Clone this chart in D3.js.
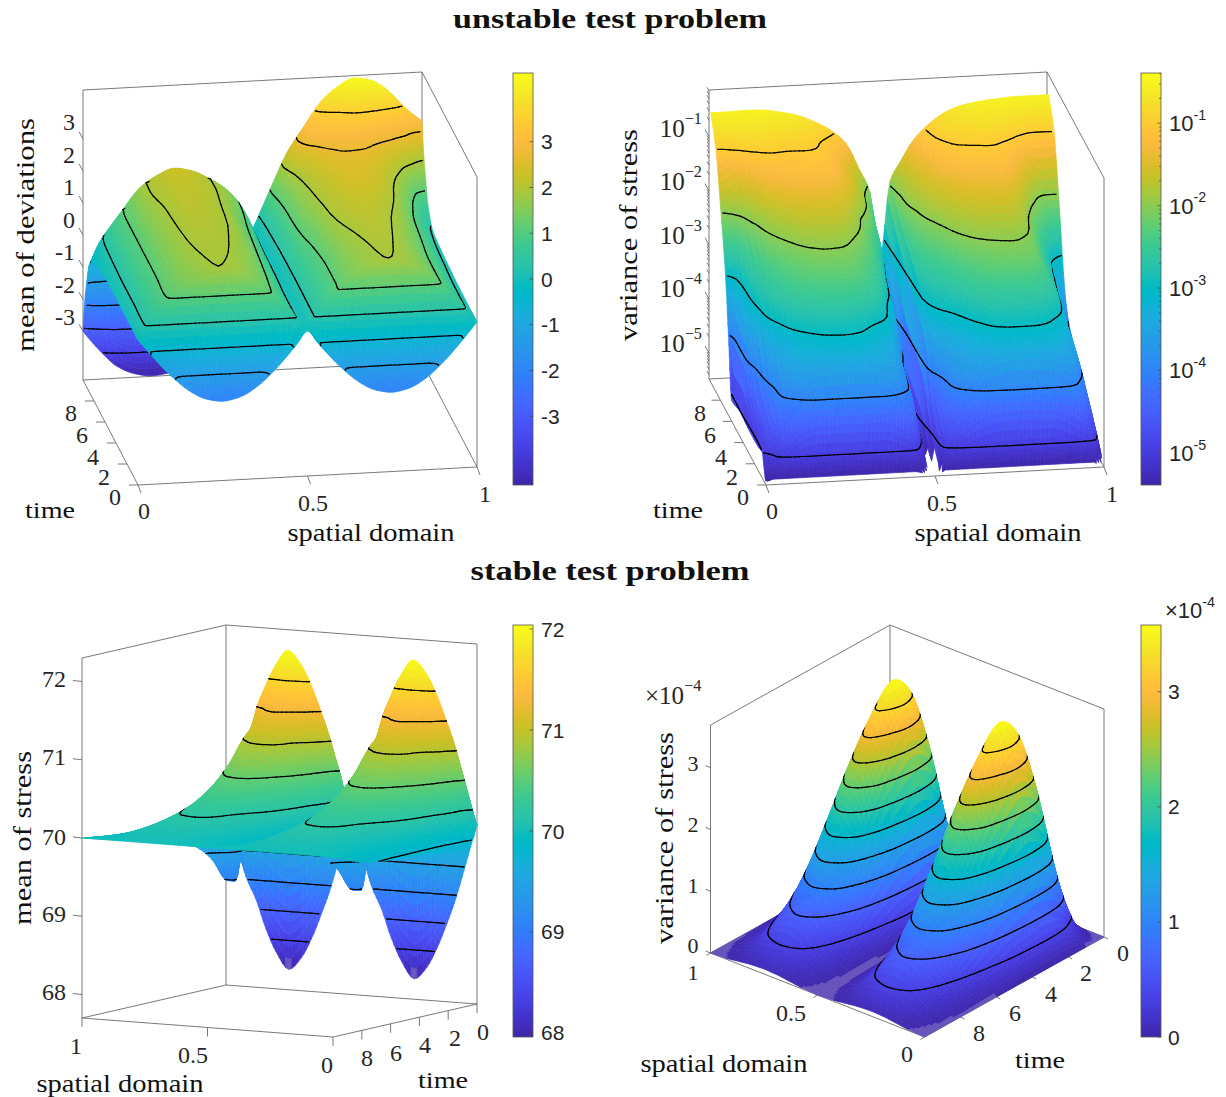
<!DOCTYPE html>
<html><head><meta charset="utf-8">
<script src="https://cdnjs.cloudflare.com/ajax/libs/d3/7.8.5/d3.min.js"></script>
<style>html,body{margin:0;padding:0;background:#fff}svg{display:block}</style></head>
<body><svg id="fig" width="1226" height="1097"></svg>
<script>
// ---------- values ----------
const timeTicks = [0, 2, 4, 6, 8];
const spaceTicks = [0, 0.5, 1];

// unstable: mean of deviations
const devX = [0,.03,.06,.1,.15,.2,.25,.3,.35,.4,.44,.47,.5,.53,.56,.6,.65,.7,.75,.8,.85,.9,.94,.97,1];
const devT = [0,.28,.35,.38,.42,.6,1,2.5,4.5,6.5,8,8.9,9.3,9.7,10];
const devZ = [
[0,-.38,-.75,-1.2,-1.66,-1.95,-2.05,-1.95,-1.66,-1.2,-.75,-.38,0,-.38,-.75,-1.2,-1.66,-1.95,-2.05,-1.95,-1.66,-1.2,-.75,-.38,0],
[0,-.36,-.72,-1.15,-1.32,-1.33,-1.33,-1.33,-1.32,-1.15,-.72,-.36,0,-.36,-.72,-1.15,-1.32,-1.33,-1.33,-1.33,-1.32,-1.15,-.72,-.36,0],
[0,-.3,-.48,-.5,-.5,-.5,-.5,-.5,-.5,-.5,-.48,-.3,0,-.3,-.48,-.5,-.5,-.5,-.5,-.5,-.5,-.5,-.48,-.3,0],
[0,.25,.3,.32,.32,.32,.32,.32,.32,.32,.3,.25,0,.25,.3,.32,.32,.32,.32,.32,.32,.32,.3,.25,0],
[0,.32,.75,1.08,1.15,1.18,1.18,1.18,1.15,1.08,.72,.34,0,.34,.72,1.1,1.15,1.18,1.18,1.18,1.15,1.08,.72,.32,0],
[0,.34,.8,1.15,1.45,1.7,1.88,1.72,1.45,1.12,.72,.35,0,.34,.75,1.12,1.5,1.78,1.88,1.78,1.5,1.12,.72,.34,0],
[0,.35,.8,1.18,1.52,1.76,1.91,1.83,1.55,1.15,.72,.35,0,.34,.76,1.1,1.55,1.78,1.92,1.8,1.55,1.12,.72,.35,0],
[0,.33,.8,1.15,1.6,1.87,1.97,1.92,1.7,1.25,.75,.35,0,.33,.75,1.1,1.6,1.87,2,1.87,1.55,1.12,.72,.35,0],
[0,.33,.8,1.15,1.65,1.93,2.05,2,1.85,1.35,.85,.42,0,.33,.85,1.2,1.85,2.05,2.15,2,1.7,1.2,.8,.4,.03],
[-.05,.3,.8,1.15,1.72,1.97,2.15,2.08,1.9,1.45,.95,.45,-.02,.35,.95,1.5,2,2.25,2.4,2.3,2,1.35,.85,.45,.1],
[-.2,.25,.8,1.15,1.8,2.05,2.22,2.15,1.95,1.6,1.1,.55,-.03,.4,1,1.65,2.15,2.45,2.6,2.55,2.3,1.75,1.1,.6,.2],
[-.6,.1,.55,1.1,1.75,2.1,2.3,2.2,1.95,1.6,1.15,.6,-.05,.45,1.1,1.8,2.4,2.75,2.85,2.85,2.65,2.25,1.6,1,.7],
[-1.2,-.8,-.5,-.3,.3,1,1.5,1.5,1.3,1,.7,.4,-.07,.5,1.2,2,2.8,3.1,3.15,3.2,3,2.7,2.2,1.7,1.3],
[-2,-2.3,-2.6,-2.9,-3,-2.8,-2.5,-2.2,-1.7,-1,-.5,-.2,-.1,.55,1.3,2.2,3,3.35,3.5,3.7,3.6,3.3,3,2.4,2.1],
[-3,-3.4,-3.75,-4.15,-4.4,-4.5,-4.45,-4.1,-3.3,-2.2,-1.3,-.7,-.1,.6,1.3,2.2,3,3.75,4.2,4.45,4.35,4,3.55,3.25,3]
];
const devLevels = [-3.7,-2.9,-2.1,-1.3,-.5,.3,1.1,1.9,2.7,3.5];
const devZTicks = [-3,-2,-1,0,1,2,3];

// unstable: variance of stress (base-10 exponents; cells under the mask exponent are not drawn)
const uvarX = [0,.02,.05,.1,.15,.2,.25,.3,.35,.4,.44,.47,.5,.53,.56,.6,.65,.7,.75,.8,.85,.9,.94,.97,1];
const uvarT = [0,.05,.2,.7,1.5,3,4.5,6,6.6,7.1,7.9,8.8,9.7];
const uvarE = [
[-5.45,-5.38,-5.38,-5.38,-5.38,-5.38,-5.38,-5.38,-5.38,-5.38,-5.38,-5.43,-5.6,-5.38,-5.38,-5.38,-5.38,-5.38,-5.38,-5.38,-5.38,-5.38,-5.38,-5.38,-5.6],
[-5.42,-5.35,-5.2,-5,-4.95,-4.95,-4.95,-4.95,-4.95,-5,-5.1,-5.42,-5.6,-5.3,-5.2,-5.05,-4.95,-4.9,-4.9,-4.9,-4.9,-5,-5.1,-5.2,-5.6],
[-5.35,-5.2,-4.7,-4.25,-4,-4,-4,-4,-4,-4.2,-4.7,-5.3,-5.6,-5,-4.7,-4.3,-4.05,-3.95,-3.9,-3.9,-3.95,-4.05,-4.3,-4.8,-5.5],
[-5,-4.8,-4.1,-3.6,-3.35,-3.25,-3.22,-3.25,-3.35,-3.7,-4.1,-5,-5.55,-4.7,-4.1,-3.7,-3.4,-3.2,-3.15,-3.15,-3.2,-3.5,-4,-4.5,-5.3],
[-5.05,-4.7,-4,-3.2,-2.97,-2.85,-2.82,-2.9,-3.15,-3.4,-3.95,-4.7,-5.45,-4.5,-3.85,-3.4,-3.05,-2.85,-2.8,-2.8,-2.88,-3.15,-3.6,-4.3,-5.25],
[-5.05,-4.5,-3.1,-2.65,-2.4,-2.3,-2.25,-2.27,-2.45,-2.85,-3.7,-4.3,-5.1,-3.3,-3,-2.8,-2.5,-2.3,-2.22,-2.2,-2.3,-2.65,-3.4,-4.1,-5],
[-5.02,-3.5,-2.8,-2.35,-2.1,-1.95,-1.9,-1.93,-2.15,-2.5,-3,-3.8,-5,-2.9,-2.6,-2.4,-2.1,-1.95,-1.9,-1.88,-2,-2.55,-3.1,-3.9,-4.4],
[-5.1,-3.4,-2.6,-2,-1.72,-1.55,-1.48,-1.5,-1.75,-2.2,-2.7,-3.4,-4.8,-2.65,-2.25,-2,-1.72,-1.55,-1.48,-1.45,-1.7,-2.3,-2.85,-3.5,-4.1],
[-4,-3.2,-2.45,-1.85,-1.5,-1.38,-1.3,-1.35,-1.6,-2.1,-2.55,-3.2,-4.5,-2.55,-2.13,-1.85,-1.55,-1.38,-1.3,-1.28,-1.5,-2.1,-2.7,-3.3,-3.8],
[-3,-2.7,-2.25,-1.6,-1.33,-1.22,-1.18,-1.2,-1.45,-1.9,-2.4,-3,-4.2,-2.48,-2.05,-1.75,-1.38,-1.22,-1.15,-1.13,-1.3,-1.9,-2.4,-2.9,-3.3],
[-2,-1.9,-1.7,-1.25,-1.1,-1.08,-1.06,-1.05,-1.3,-1.65,-2.15,-2.7,-3.9,-2.33,-1.85,-1.55,-1.2,-1.03,-1,-.98,-1.1,-1.5,-1.95,-2.1,-2.1],
[-1,-.97,-.88,-.8,-.78,-.86,-.88,-.98,-1.2,-1.6,-2,-2.5,-3.6,-2.15,-1.8,-1.35,-1,-.85,-.78,-.72,-.75,-.9,-1,-1,-.97],
[-.5,-.5,-.5,-.49,-.5,-.55,-.62,-.75,-.92,-1.2,-1.7,-2.1,-3.4,-1.95,-1.6,-1.2,-.9,-.7,-.6,-.55,-.52,-.5,-.5,-.5,-.5]
];
const uvarLevels = [-5,-4,-3,-2,-1];
const uvarZTicks = [-5,-4,-3,-2,-1];

// stable: mean of stress (deviation from the 70 level, first lobe; the second lobe repeats it)
const mstressBase = 70;
const mstressLobeX = [0,.03,.06,.09,.12,.16,.2,.25,.3,.34,.38,.42,.45,.48,.5];
const mstressT = [0,.06,.22,.5,1,2,3.5,5,6.5,8,9,10];
const mstressLobe = [
[0,-.35,-.7,-1.03,-1.3,-1.63,-1.88,-2.04,-1.83,-1.55,-1.18,-.9,-.55,-.2,0],
[0,.35,.7,1.03,1.3,1.63,1.88,2.04,1.83,1.55,1.18,-.3,-.7,-.7,-.6],
[-.15,.25,.6,.92,1.18,1.45,1.6,1.66,1.55,1.37,1.1,-.35,-.95,-.95,-.85],
[-.22,.1,.45,.75,1,1.28,1.42,1.47,1.38,1.18,.97,-.3,-.9,-.9,-.8],
[-.28,.1,.38,.6,.75,.92,1.15,1.29,1.2,1.05,.88,0,-.45,-.6,-.65],
[-.28,-.05,.2,.42,.55,.72,.88,.92,.87,.75,.6,.12,-.15,-.32,-.46],
[-.24,-.1,.06,.2,.28,.38,.5,.55,.52,.45,.33,.08,-.08,-.18,-.28],
[-.22,-.1,0,.08,.13,.19,.28,.32,.3,.25,.18,.04,-.05,-.1,-.15],
[-.2,-.1,-.04,.02,.06,.1,.16,.18,.17,.15,.1,.02,-.03,-.06,-.1],
[-.15,-.07,-.03,0,.03,.05,.07,.09,.08,.07,.05,.01,-.02,-.04,-.06],
[-.08,-.03,-.01,.01,.02,.03,.04,.05,.04,.03,.02,0,-.01,-.02,-.03],
[0,0,0,0,0,0,0,0,0,0,0,0,0,0,0]
];
const mstressLevels = [68.33,68.7,69.07,69.44,69.81,70.18,70.55,70.92,71.29,71.66];
const mstressZTicks = [68,69,70,71,72];

// stable: variance of stress (units of 1e-4, first lobe; the second lobe repeats it)
const svarLobeX = [0,.0625,.125,.1875,.25,.3125,.375,.4375,.5];
const svarT = [0,.4,.85,1.2,1.65,1.95,2.35,2.75,3.6,4.5,5.5,6.5,7.5,8.5,9.5,10];
const svarLobe = [
[0,0,0,0,0,0,0,0,0],
[0,.06,.2,.34,.4,.34,.2,.06,0],
[0,.2,.67,1.14,1.34,1.14,.67,.2,0],
[0,.31,1.07,1.84,2.15,1.84,1.07,.31,0],
[0,.44,1.49,2.54,2.98,2.54,1.49,.44,0],
[0,.48,1.65,2.82,3.3,2.82,1.65,.48,0],
[0,.51,1.75,2.99,3.5,2.99,1.75,.51,0],
[0,.52,1.79,3.06,3.58,3.06,1.79,.52,0],
[0,.48,1.65,2.82,3.3,2.82,1.65,.48,0],
[0,.42,1.42,2.43,2.85,2.43,1.42,.42,0],
[0,.31,1.07,1.84,2.15,1.84,1.07,.31,0],
[0,.21,.72,1.24,1.45,1.24,.72,.21,0],
[0,.13,.44,.75,.88,.75,.44,.13,0],
[0,.08,.26,.45,.53,.45,.26,.08,0],
[0,.03,.1,.17,.2,.17,.1,.03,0],
[0,.012,.04,.068,.08,.068,.04,.012,0]
];
const svarLevels = [.325,.65,.975,1.3,1.625,1.95,2.275,2.6,2.925,3.25];
const svarZTicks = [0,1,2,3];

// parula colour table
const parula = [[.2422,.1504,.6603],[.2504,.165,.7076],[.2578,.1818,.7511],[.2647,.1978,.7952],[.2706,.2147,.8364],[.2751,.2342,.871],[.2783,.2559,.8991],[.2803,.2782,.9221],[.2813,.3006,.9414],[.281,.3228,.9579],[.2795,.3447,.9717],[.276,.3667,.9829],[.2699,.3892,.9906],[.2602,.4123,.9952],[.244,.4358,.9988],[.2206,.4603,.9973],[.1963,.4847,.9892],[.1834,.5074,.9798],[.1786,.5289,.9682],[.1764,.5499,.952],[.1687,.5703,.9359],[.154,.5902,.9218],[.146,.6091,.9079],[.138,.6276,.8973],[.1248,.6459,.8883],[.1113,.6635,.8763],[.0952,.6798,.8598],[.0689,.6948,.8394],[.0297,.7082,.8163],[.0036,.7203,.7917],[.0067,.7312,.766],[.0433,.7411,.7394],[.0964,.75,.712],[.1408,.7584,.6842],[.1717,.767,.6554],[.1938,.7758,.6251],[.2161,.7843,.5923],[.247,.7918,.5567],[.2906,.7973,.5188],[.3406,.8008,.4789],[.3909,.8029,.4354],[.4456,.8024,.3909],[.5044,.7993,.348],[.5616,.7942,.3045],[.6174,.7876,.2612],[.672,.7793,.2227],[.7242,.7698,.191],[.7738,.7598,.1646],[.8203,.7498,.1535],[.8634,.7406,.1596],[.9035,.733,.1774],[.9393,.7288,.21],[.9728,.7298,.2394],[.9956,.7434,.2371],[.997,.7659,.2199],[.9952,.7893,.2028],[.9892,.8136,.1885],[.9786,.8386,.1766],[.9676,.8639,.1643],[.961,.889,.1537],[.9597,.9135,.1423],[.9628,.9373,.1265],[.9691,.9606,.1064],[.9769,.9839,.0805]]
  .map(c => d3.rgb(c[0]*255, c[1]*255, c[2]*255).formatRgb());
const parulaFn = d3.piecewise(d3.interpolateRgb, parula);

const SERIF = "'Liberation Serif','DejaVu Serif',serif";
const SANS = "'Liberation Sans',Arial,sans-serif";
const BOX = "#6a6a6a", TXT = "#262626";

const svg = d3.select("#fig");
const defs = svg.append("defs");
defs.append("linearGradient").attr("id","parulaGrad").attr("x1",0).attr("x2",0).attr("y1",1).attr("y2",0)
  .selectAll("stop").data(parula).join("stop")
  .attr("offset",(d,i)=>i/(parula.length-1)).attr("stop-color",d=>d);

function text(s,x,y,o={}){
  const t = svg.append("text").attr("x",x).attr("y",y)
    .attr("font-family",o.font||SERIF).attr("font-size",o.size||24)
    .attr("fill",o.fill||TXT).attr("text-anchor",o.anchor||"middle")
    .attr("dominant-baseline","central").text(s);
  if(o.bold) t.attr("font-weight","bold");
  if(o.len) t.attr("textLength",o.len).attr("lengthAdjust","spacingAndGlyphs");
  if(o.rot) t.attr("transform",`rotate(${o.rot} ${x} ${y})`);
  return t;
}
function powerText(base,exp,x,y,o={}){
  const size=o.size||24, t = text("",x,y,o);
  t.append("tspan").text(base);
  t.append("tspan").attr("dy",-size*.38).attr("font-size",size*.65).text(exp);
  return t;
}

// monotone cubic resampling of the read grid, only to tessellate the drawn mesh
function tangents(xs,ys){
  const n=xs.length, m=[], dl=[];
  for(let i=0;i<n-1;i++) dl.push((ys[i+1]-ys[i])/(xs[i+1]-xs[i]));
  m[0]=dl[0]; m[n-1]=dl[n-2];
  for(let i=1;i<n-1;i++) m[i]=(dl[i-1]*dl[i]<=0)?0:2*dl[i-1]*dl[i]/(dl[i-1]+dl[i]);
  return m;
}
function hermite(xs,ys,m,x){
  let i=d3.bisectRight(xs,x)-1; i=Math.max(0,Math.min(xs.length-2,i));
  const h=xs[i+1]-xs[i], s=(x-xs[i])/h, s2=s*s, s3=s2*s;
  return (2*s3-3*s2+1)*ys[i]+(s3-2*s2+s)*h*m[i]+(-2*s3+3*s2)*ys[i+1]+(s3-s2)*h*m[i+1];
}
function refine(xs,k){
  const o=[];
  for(let i=0;i<xs.length-1;i++) for(let j=0;j<k;j++) o.push(xs[i]+(xs[i+1]-xs[i])*j/k);
  o.push(xs[xs.length-1]); return o;
}
// more mesh rows where the read rows differ most, so tall walls keep a smooth colour
function refineRows(ts,rows,base,dz){
  const o=[];
  for(let i=0;i<ts.length-1;i++){
    const jump=d3.max(rows[i],(v,c)=>Math.abs(rows[i+1][c]-v));
    const k=Math.min(40,Math.max(base,Math.ceil(jump/dz)));
    for(let j=0;j<k;j++) o.push(ts[i]+(ts[i+1]-ts[i])*j/k);
  }
  o.push(ts[ts.length-1]); return o;
}

function drawSurface(p){
  const sx=d3.scaleLinear().domain([0,1]).range([0,1]);
  const st=d3.scaleLinear().domain([0,10]).range([0,1]);
  const sz=d3.scaleLinear().domain(p.zDomain).range([0,1]);
  const px=(x,t,z)=>p.O[0]+p.X[0]*sx(x)+p.T[0]*st(t)+p.Z[0]*sz(z);
  const py=(x,t,z)=>p.O[1]+p.X[1]*sx(x)+p.T[1]*st(t)+p.Z[1]*sz(z);
  const cnorm=d3.scaleLinear().domain(p.cDomain).range([0,1]).clamp(true);
  const color=v=>parulaFn(cnorm(v));
  const washed=v=>d3.interpolateRgb(parulaFn(cnorm(v)),"#ffffff")(.2);

  // box
  const [z0,z1]=p.zDomain, bx=p.backX, bt=p.backT, tEnd=10;
  const seg=(a,b)=>svg.append("line").attr("x1",px(...a)).attr("y1",py(...a)).attr("x2",px(...b)).attr("y2",py(...b))
    .attr("stroke",BOX).attr("stroke-width",.9);
  [[0,0],[1,0],[1,tEnd],[0,tEnd]].forEach((c,i,a)=>{const e=a[(i+1)%4]; seg([c[0],c[1],z0],[e[0],e[1],z0]);});
  seg([bx,bt,z0],[bx,bt,z1]);
  const ox=1-bx, ot=tEnd-bt;
  seg([ox,bt,z0],[ox,bt,z1]); seg([bx,ot,z0],[bx,ot,z1]);
  seg([ox,bt,z1],[bx,bt,z1]); seg([bx,ot,z1],[bx,bt,z1]);

  // ticks
  const tick=(a,v)=>svg.append("line").attr("x1",px(...a)).attr("y1",py(...a))
    .attr("x2",px(...a)+v[0]).attr("y2",py(...a)+v[1]).attr("stroke",BOX).attr("stroke-width",.9);
  spaceTicks.forEach(x=>tick([x,p.xTickT,z0],p.xTickV));
  timeTicks.forEach(t=>tick([p.tTickX,t,z0],p.tTickV));
  p.zTicks.forEach(z=>tick([p.zTickX,p.zTickT,z],p.zTickV));
  (p.zMinor||[]).forEach(z=>tick([p.zTickX,p.zTickT,z],[p.zTickV[0]*.5,p.zTickV[1]*.5]));

  // fine mesh
  const dz=(p.cDomain[1]-p.cDomain[0])/30;
  const xf=refine(p.xs,p.kx), tf=refineRows(p.ts,p.rows,p.kt,dz), nx=xf.length, nt=tf.length;
  const cols=p.rows.map(r=>{const m=tangents(p.xs,r); return xf.map(x=>hermite(p.xs,r,m,x));});
  const grid=new Float64Array(nx*nt);
  for(let i=0;i<nx;i++){
    const ys=cols.map(c=>c[i]), m=tangents(p.ts,ys);
    tf.forEach((t,j)=>{grid[j*nx+i]=hermite(p.ts,ys,m,t);});
  }
  const rankX=i=>p.nearX===0?(nx-2-i):i;
  const rankT=j=>p.nearT===0?(nt-2-j):j;
  const W=nx+4;
  const items=[];
  const f1=v=>v.toFixed(1);
  for(let j=0;j<nt-1;j++) for(let i=0;i<nx-1;i++){
    const c=[[i,j],[i+1,j],[i+1,j+1],[i,j+1]];
    let d="",sum=0,low=Infinity;
    c.forEach(([a,b],q)=>{const z=grid[b*nx+a]; sum+=z; low=Math.min(low,z); d+=(q?"L":"M")+f1(px(xf[a],tf[b],z))+","+f1(py(xf[a],tf[b],z));});
    if(p.maskBelow!==undefined&&low<p.maskBelow) continue;
    const v=sum/4, fade=p.fadeBelow!==undefined&&v<p.fadeBelow;
    items.push({key:rankT(j)*W+rankX(i),d:d+"Z",c:fade?washed(v):color(v),line:false});
  }
  // contour lines through the library's marching squares
  const fx=d3.scaleLinear().domain(d3.range(nx)).range(xf);
  const ft=d3.scaleLinear().domain(d3.range(nt)).range(tf);
  const gen=d3.contours().size([nx,nt]).smooth(true);
  p.levels.forEach(level=>{
    const mp=gen.contour(grid,level);
    mp.coordinates.forEach(poly=>poly.forEach(ring=>{
      for(let k=0;k<ring.length-1;k++){
        const a=[ring[k][0]-.5,ring[k][1]-.5], b=[ring[k+1][0]-.5,ring[k+1][1]-.5];
        if(a[0]<=0||b[0]<=0||a[1]<=0||b[1]<=0||a[0]>=nx-1||b[0]>=nx-1||a[1]>=nt-1||b[1]>=nt-1) continue;
        const ci=Math.min(nx-2,Math.floor((a[0]+b[0])/2)), cj=Math.min(nt-2,Math.floor((a[1]+b[1])/2));
        const P=q=>{const x=fx(q[0]),t=ft(q[1]); return f1(px(x,t,level))+","+f1(py(x,t,level));};
        items.push({key:(rankT(cj)+1)*W+Math.min(nx-2,rankX(ci)+1)+.5,d:"M"+P(a)+"L"+P(b),line:true});
      }
    }));
  });
  items.sort((a,b)=>a.key-b.key);
  svg.append("g").selectAll("path").data(items).join("path")
    .attr("d",d=>d.d)
    .attr("fill",d=>d.line?"none":d.c)
    .attr("stroke",d=>d.line?"#000":d.c)
    .attr("stroke-width",d=>d.line?1.25:.7)
    .attr("stroke-linecap",d=>d.line?"round":null);
}

function colorbar(x,y0,y1,ticks,pos){
  const w=20;
  svg.append("rect").attr("x",x).attr("y",y0).attr("width",w).attr("height",y1-y0)
    .attr("fill","url(#parulaGrad)").attr("stroke","#555").attr("stroke-width",.8);
  svg.append("g").selectAll("line").data(ticks).join("line")
    .attr("x1",d=>x+w-(d.minor?2:3.5)).attr("x2",x+w)
    .attr("y1",d=>pos(d.v)).attr("y2",d=>pos(d.v)).attr("stroke","#444").attr("stroke-width",.7);
}

// ---------- titles ----------
text("unstable test problem",610,18,{bold:true,size:28,fill:"#111",len:314});
text("stable test problem",610,570,{bold:true,size:28,fill:"#111",len:279});

// ---------- panel 1 ----------
drawSurface({O:[138,485],X:[339,-18],T:[-55,-105],Z:[0,-290],zDomain:[-4.52,4.52],cDomain:[-4.5,4.5],
  backX:1,backT:10,xs:devX,ts:devT,rows:devZ,kx:4,kt:4,levels:devLevels,nearX:0,nearT:0,
  zTicks:devZTicks,zTickX:0,zTickT:10,zTickV:[-4,-7],
  xTickT:0,xTickV:[3,8],tTickX:0,tTickV:[-9,0]});
[[-3,317],[-2,285],[-1,252],[0,220],[1,187],[2,155],[3,122]].forEach(([v,y])=>text(String(v),75,y,{anchor:"end"}));
timeTicks.forEach((t,i)=>text(String(t),[115,104,93,82,71][i],[497,477,457,435,413][i]));
text("0",144,511); text("0.5",313,503); text("1",485,494);
text("time",50,510,{size:24,fill:"#111",len:50});
text("spatial domain",371,532,{size:25,fill:"#111",len:167});
text("mean of deviations",25,235,{size:26,fill:"#111",len:234,rot:-90});
{
  const y=d3.scaleLinear().domain([-4.5,4.5]).range([485,73]);
  colorbar(513,73,485,devZTicks.map(v=>({v})),y);
  devZTicks.forEach(v=>text(String(v),541,y(v),{font:SANS,size:21,anchor:"start"}));
}

// ---------- panel 2 ----------
const uvarMinor=[];
[-6,-5,-4,-3,-2,-1].forEach(d=>[2,3,4,5,6,7,8,9].forEach(k=>{const e=d+Math.log10(k); if(e>-5.48&&e<-.14) uvarMinor.push(e);}));
drawSurface({O:[766,485],X:[338,-18],T:[-57,-106],Z:[0,-289],zDomain:[-5.48,-.14],cDomain:[-5.39,-.39],maskBelow:-5.42,
  backX:1,backT:10,xs:uvarX,ts:uvarT,rows:uvarE,kx:4,kt:5,levels:uvarLevels,nearX:0,nearT:0,
  zTicks:uvarZTicks,zMinor:uvarMinor,zTickX:0,zTickT:10,zTickV:[-4,-7],
  xTickT:0,xTickV:[3,8],tTickX:0,tTickV:[-9,0]});
[[-1,128],[-2,181],[-3,235],[-4,288],[-5,343]].forEach(([e,y])=>powerText("10","\u2212"+(-e),702,y,{anchor:"end",size:25}));
timeTicks.forEach((t,i)=>text(String(t),[743,732,721,710,700][i],[497,477,457,435,413][i]));
text("0",772,511); text("0.5",942,503); text("1",1112,494);
text("time",678,510,{size:24,fill:"#111",len:50});
text("spatial domain",998,532,{size:25,fill:"#111",len:167});
text("variance of stress",628,235,{size:26,fill:"#111",len:212,rot:-90});
{
  const y=d3.scaleLinear().domain([-5.39,-.39]).range([485,73]);
  const minors=[]; [-6,-5,-4,-3,-2,-1].forEach(d=>[2,3,4,5,6,7,8,9].forEach(k=>{const e=d+Math.log10(k); if(e>-5.39&&e<-.39) minors.push({v:e,minor:true});}));
  colorbar(1141,73,485,uvarZTicks.map(v=>({v})).concat(minors),y);
  uvarZTicks.forEach(v=>powerText("10",String(v),1169,y(v),{font:SANS,size:22,anchor:"start"}));
}

// ---------- panel 3 ----------
const mstressX=mstressLobeX.concat(mstressLobeX.slice(1).map(x=>x+.5));
const mstressZ=mstressLobe.map(r=>r.concat(r.slice(1)).map(v=>mstressBase+v));
drawSurface({O:[477,1004],X:[-251,-19],T:[-144,33],Z:[0,-360],zDomain:[67.7,72.3],cDomain:[67.96,72.04],
  backX:1,backT:0,xs:mstressX,ts:mstressT,rows:mstressZ,kx:4,kt:5,levels:mstressLevels,nearX:0,nearT:10,fadeBelow:68.06,
  zTicks:mstressZTicks,zTickX:1,zTickT:10,zTickV:[-9,-1],
  xTickT:10,xTickV:[0,9],tTickX:0,tTickV:[0,9]});
[[68,992],[69,914],[70,837],[71,757],[72,679]].forEach(([v,y])=>text(String(v),66,y,{anchor:"end"}));
timeTicks.forEach((t,i)=>text(String(t),[483,455,425,396,367][i],[1032,1038,1045,1053,1058][i]));
text("1",76,1046); text("0.5",193,1055); text("0",327,1065);
text("time",443,1080,{size:24,fill:"#111",len:50});
text("spatial domain",120,1083,{size:25,fill:"#111",len:167});
text("mean of stress",22,838,{size:26,fill:"#111",len:174,rot:-90});
{
  const y=d3.scaleLinear().domain([67.96,72.04]).range([1037,625]);
  colorbar(513,625,1037,mstressZTicks.map(v=>({v})),y);
  mstressZTicks.forEach(v=>text(String(v),541,y(v),{font:SANS,size:21,anchor:"start"}));
}

// ---------- panel 4 ----------
const svarX=svarLobeX.concat(svarLobeX.slice(1).map(x=>x+.5));
const svarZ=svarLobe.map(r=>r.concat(r.slice(1)));
drawSurface({O:[1104,937],X:[-214,-84],T:[-179.5,100],Z:[0,-228],zDomain:[0,3.69],cDomain:[0,3.58],
  backX:1,backT:0,xs:svarX,ts:svarT,rows:svarZ,kx:6,kt:4,levels:svarLevels,nearX:0,nearT:10,fadeBelow:.02,
  zTicks:svarZTicks,zTickX:1,zTickT:10,zTickV:[-5,-2],
  xTickT:10,xTickV:[-4,2.5],tTickX:0,tTickV:[4,2]});
[[0,945],[1,885],[2,824],[3,763]].forEach(([v,y])=>text(String(v),693,y,{size:22}));
timeTicks.forEach((t,i)=>text(String(t),[1123,1086,1051,1015,979][i],[953,973,994,1013,1033][i]));
text("1",693,972,{size:22}); text("0.5",791,1013); text("0",907,1054);
text("time",1040,1060,{size:24,fill:"#111",len:50});
text("spatial domain",724,1063,{size:25,fill:"#111",len:167});
text("variance of stress",664,838,{size:26,fill:"#111",len:212,rot:-90});
powerText("\u00d710","\u22124",645,695,{anchor:"start",size:25});
{
  const y=d3.scaleLinear().domain([0,3.58]).range([1037,625]);
  colorbar(1141,625,1037,svarZTicks.map(v=>({v})),y);
  svarZTicks.forEach(v=>text(String(v),1168,y(v),{font:SANS,size:21,anchor:"start"}));
  powerText("\u00d710","-4",1165,610,{font:SANS,size:22,anchor:"start"});
}
</script></body></html>
